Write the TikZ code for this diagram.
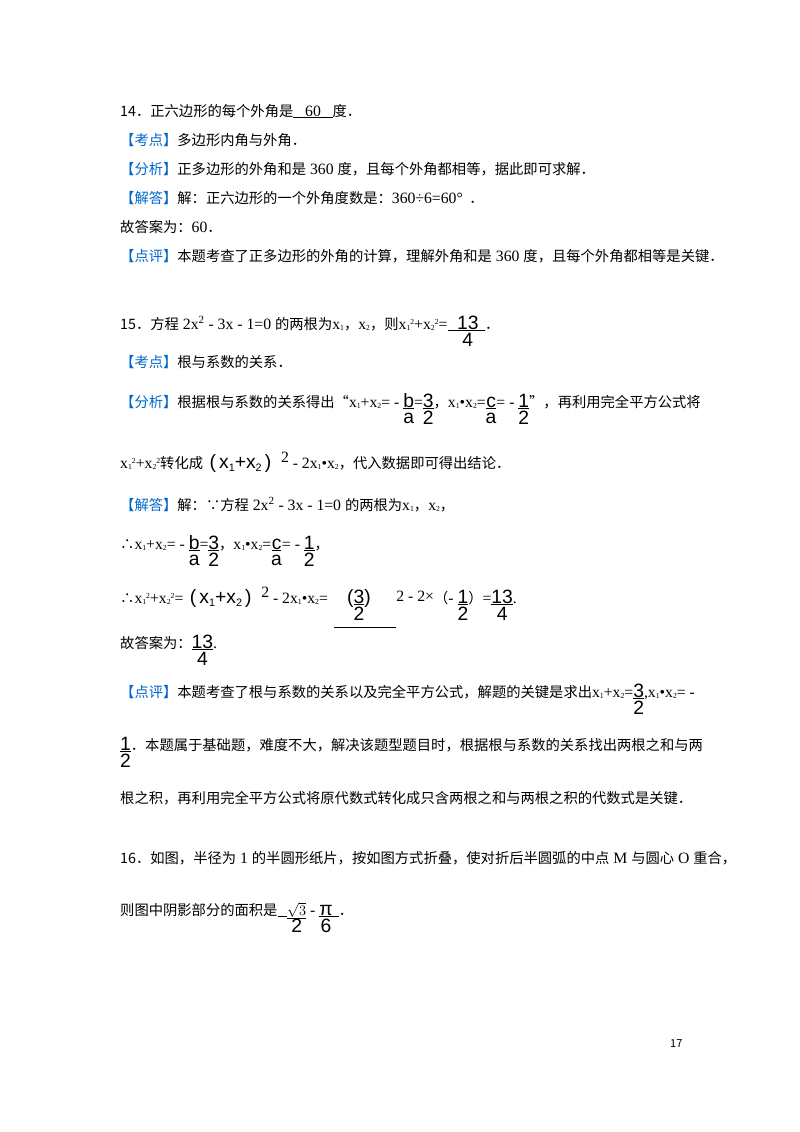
\documentclass[tikz,border=0pt]{standalone}
\usepackage{fontspec}
\setmainfont{Noto Sans CJK SC}
\newfontfamily\lat[Scale=1.1]{Liberation Serif}
\newfontfamily\bfr[Scale=1.35]{Liberation Sans}
\definecolor{kb}{RGB}{0,102,204}
\newcommand{\tg}[1]{\textcolor{kb}{【#1】}}
\newcommand{\fr}[2]{\begin{tabular}[t]{@{}c@{}}\underline{\bfr #1}\\[-1pt]{\bfr #2}\end{tabular}}
\newcommand{\xx}[1]{{\lat x}\raisebox{-1pt}{\scriptsize\lat #1}}
\newcommand{\xs}[1]{{\lat x}\raisebox{-1pt}{\scriptsize\lat #1}\raisebox{5pt}{\scriptsize\lat 2}}
\newcommand{\pp}{{\bfr (\,x\raisebox{-3pt}{\footnotesize 1}+x\raisebox{-3pt}{\footnotesize 2}\,)}}
\begin{document}
\begin{tikzpicture}[x=1pt,y=-1pt,
  ln/.style={anchor=base west,inner sep=0pt,font=\fontsize{14.3}{17}\selectfont}]
\useasboundingbox (0,0) rectangle (800,1132);
\node[ln] (a1) at (120,116) {14．正六边形的每个外角是\underline{\lat\ \ \ 60\ \ \ }度．};
\node[ln] (a2) at (120,145) {\tg{考点}多边形内角与外角．};
\node[ln] (a3) at (120,174) {\tg{分析}正多边形的外角和是{\lat\ 360\ }度，且每个外角都相等，据此即可求解．};
\node[ln] (a4) at (120,203) {\tg{解答}解：正六边形的一个外角度数是：{\lat 360÷6=60°}\ \ ．};
\node[ln] (a5) at (120,232) {故答案为：{\lat 60}．};
\node[ln] (a6) at (120,261) {\tg{点评}本题考查了正多边形的外角的计算，理解外角和是{\lat\ 360\ }度，且每个外角都相等是关键．};
\node[ln] (b1) at (120,329) {15．方程{\lat\ 2x\textsuperscript{2} - 3x - 1=0\ }的两根为\xx1，\xx2，则\xs1{\lat +}\xs2{\lat =}\underline{\ \ \ }\fr{13}{4}\underline{\ \ }．};
\node[ln] (b2) at (120,367) {\tg{考点}根与系数的关系．};
\node[ln] (b3) at (120,407) {\tg{分析}根据根与系数的关系得出“\xx1{\lat +}\xx2{\lat = -\ }\fr{b}{a}{\lat =}\fr{3}{2}，\xx1{\lat •}\xx2{\lat =}\fr{c}{a}{\lat = -\ }\fr{1}{2}”，再利用完全平方公式将};
\node[ln] (b4) at (120,468) {\xs1{\lat +}\xs2转化成\ \ \pp\ \ \ \raisebox{6pt}{\lat 2}{\lat\ - 2}\xx1{\lat •}\xx2，代入数据即可得出结论．};
\node[ln] (b5) at (120,510) {\tg{解答}解：∵方程{\lat\ 2x\textsuperscript{2} - 3x - 1=0\ }的两根为\xx1，\xx2，};
\node[ln] (b6) at (120,549) {∴\xx1{\lat +}\xx2{\lat = -\ }\fr{b}{a}{\lat =}\fr{3}{2}，\xx1{\lat •}\xx2{\lat =}\fr{c}{a}{\lat = -\ }\fr{1}{2}，};
\node[ln] (b7) at (120,603) {∴\xs1{\lat +}\xs2{\lat =}\ \ \pp\ \ \ \raisebox{6pt}{\lat 2}{\lat\ - 2}\xx1{\lat •}\xx2{\lat =}\ \ \begin{tabular}[t]{@{}c@{}}\underline{\ \ \ \ {\bfr(}\fr{3}{2}{\bfr)}\ \ \ \ \ \ \ \ }\end{tabular}\raisebox{2pt}{\lat 2 - 2×}（{\lat -\ }\fr{1}{2}）{\lat =}\fr{13}{4}{\lat .}};
\node[ln] (b8) at (120,648) {故答案为：\fr{13}{4}{\lat .}};
\node[ln] (b9) at (120,697) {\tg{点评}本题考查了根与系数的关系以及完全平方公式，解题的关键是求出\xx1{\lat +}\xx2{\lat =}\fr{3}{2}{\lat ,}\xx1{\lat •}\xx2{\lat = -}};
\node[ln] (b10) at (120,750) {\fr{1}{2}．本题属于基础题，难度不大，解决该题型题目时，根据根与系数的关系找出两根之和与两};
\node[ln] (b11) at (120,803) {根之积，再利用完全平方公式将原代数式转化成只含两根之和与两根之积的代数式是关键．};
\node[ln] (c1) at (120,863) {16．如图，半径为{\lat\ 1\ }的半圆形纸片，按如图方式折叠，使对折后半圆弧的中点{\lat\ M\ }与圆心{\lat\ O\ }重合，};
\node[ln] (c2) at (120,915) {则图中阴影部分的面积是\underline{\ \ \ }\fr{$\sqrt{3}$}{2}{\lat\ -\ }\fr{π}{6}\underline{\ \ }．};
\node[ln,font=\fontsize{11}{13}\selectfont] (pg) at (670,1047) {17};
\end{tikzpicture}
\end{document}
